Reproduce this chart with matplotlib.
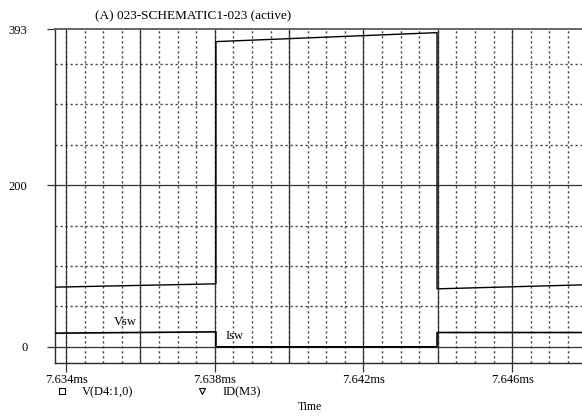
import numpy as np
import matplotlib
matplotlib.use("Agg")
import matplotlib.pyplot as plt
from matplotlib.lines import Line2D

plt.rcParams['font.family'] = ['Liberation Serif', 'DejaVu Serif']

# time in ms
t_vsw = [7.63370, 7.63803, 7.63803, 7.64398, 7.64398, 7.64788]
v_vsw = [73.8, 77.9, 377.4, 388.5, 71.7, 76.6]

t_isw = [7.63370, 7.63803, 7.63803, 7.64398, 7.64398, 7.64788]
v_isw = [16.9, 18.5, 0.0, 0.0, 17.7, 17.7]

series_names = ["V(D4:1,0)", "ID(M3)"]
x_ticks = [7.634, 7.638, 7.642, 7.646]
x_labels = ["7.634ms", "7.638ms", "7.642ms", "7.646ms"]
y_ticks = [0, 200, 393]
y_labels = ["0", "200", "393"]
xlim = (7.63370, 7.64788)
ylim = (-20, 393)

W, H = 582, 416
fig = plt.figure(figsize=(W / 100, H / 100), dpi=100)
ax = fig.add_axes([55 / W, (H - 363) / H, 1 - 55 / W, (363 - 29) / H])
ax.set_xlim(*xlim)
ax.set_ylim(*ylim)

grid_col = "#333333"
dot_col = "#444444"

# dotted minor grid
for xv in np.arange(7.6340, 7.6480, 0.0005):
    ax.axvline(xv, color=dot_col, lw=1.0, ls=(0, (1.6, 2.0)), zorder=1)
for yv in np.arange(50, 400, 50):
    if yv != 200:
        ax.axhline(yv, color=dot_col, lw=1.0, ls=(0, (1.6, 2.0)), zorder=1)

# solid major grid
for xv in np.arange(7.6340, 7.6480, 0.002):
    ax.axvline(xv, color=grid_col, lw=0.9, zorder=2)
for yv in [0, 200]:
    ax.axhline(yv, color=grid_col, lw=0.9, zorder=2)

ax.plot(t_vsw, v_vsw, color="black", lw=1.0, zorder=3)
ax.plot(t_isw, v_isw, color="black", lw=1.2, zorder=3)

ax.text(7.63529, 31, "Vsw", fontsize=9, ha="left", va="center")
ax.text(7.63828, 13.6, "Isw", fontsize=9, ha="left", va="center")

ax.set_xticks(x_ticks)
ax.set_xticklabels(x_labels, fontsize=9)
ax.set_yticks(y_ticks)
ax.set_yticklabels(y_labels, fontsize=9)
ax.tick_params(axis="x", direction="out", length=6.5, width=0.9, color=grid_col, pad=1.5)
ax.tick_params(axis="y", direction="out", length=5.8, width=0.9, color=grid_col, pad=14)

for s in ["left", "bottom", "top"]:
    ax.spines[s].set_color("#2a2a2a")
    ax.spines[s].set_linewidth(1.0)
ax.spines["top"].set_color("#666666")
ax.spines["top"].set_linewidth(1.4)
ax.spines["right"].set_visible(False)

ax.set_title("(A) 023-SCHEMATIC1-023 (active)", fontsize=9.5, x=(193 - 55) / 527, pad=7)
ax.set_xlabel("Time", fontsize=8.5)
ax.xaxis.set_label_coords((310 - 55) / 527, -38 / 334)

handles = [
    Line2D([], [], marker="s", ls="none", mfc="white", mec="black", ms=4, mew=0.8),
    Line2D([], [], marker="v", ls="none", mfc="white", mec="black", ms=4, mew=0.8),
]
fig.legend(handles, series_names, loc="upper left", bbox_to_anchor=(55.75 / W, (H - 386) / H),
           ncol=2, frameon=False, fontsize=9, handlelength=1, handletextpad=1.1,
           columnspacing=5.0, borderpad=0, borderaxespad=0)

fig.savefig("out.png", dpi=100)
